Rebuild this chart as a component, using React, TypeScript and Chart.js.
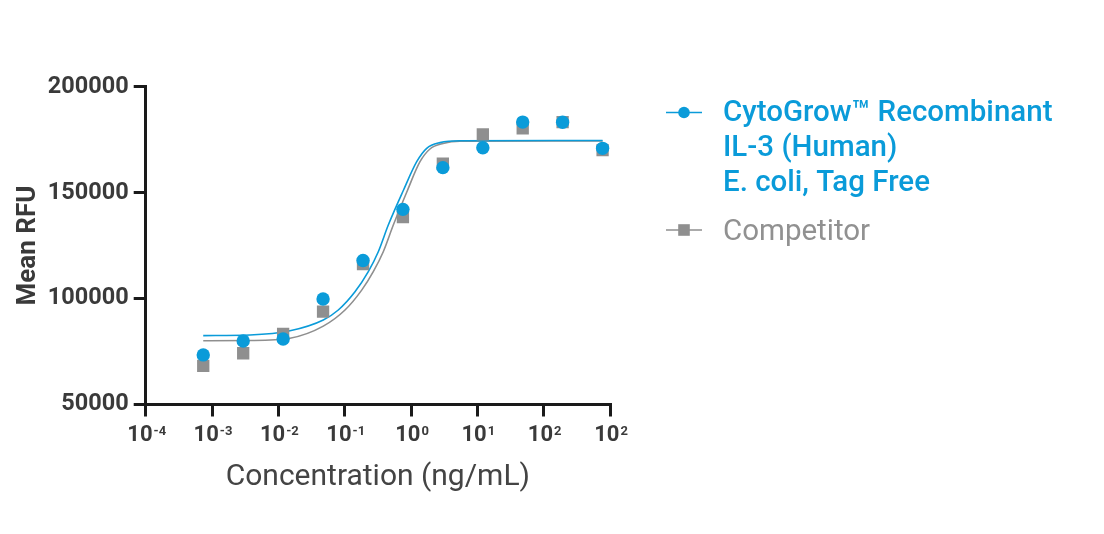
import React, { useEffect, useRef } from 'react';
import { Chart, registerables } from 'chart.js';

Chart.register(...registerables);

// ---- data ----
const concentrations = [0.000737, 0.00295, 0.0118, 0.0472, 0.189, 0.755, 3.02, 12.1, 48.3, 193, 773];
const cytoGrowRFU = [73400, 80000, 80900, 99800, 118000, 142100, 161800, 171200, 183300, 183200, 170900];
const competitorRFU = [68200, 74200, 83300, 93800, 116300, 138500, 163700, 177500, 180400, 183300, 170100];

// fitted curves
const cytoGrowFitX = [0.000737, 0.003737, 0.01498, 0.04759, 0.0801, 0.143, 0.227, 0.3211, 0.4545, 0.7656, 1.219, 1.724, 2.735, 5.476, 773];
const cytoGrowFitY = [82500, 82800, 84800, 89900, 94600, 103200, 112700, 122100, 134700, 151000, 164600, 170900, 173600, 174500, 174600];
const competitorFitX = [0.000737, 0.003737, 0.01498, 0.04759, 0.1011, 0.1805, 0.27, 0.3819, 0.5408, 0.861, 1.366, 1.932, 3.034, 5.476, 773];
const competitorFitY = [80100, 80200, 81300, 87000, 94600, 104000, 112700, 122100, 134700, 150200, 164600, 170600, 173200, 174300, 174400];

const yTickValues = [50000, 100000, 150000, 200000];
const xTickValues = [1e-4, 1e-3, 1e-2, 1e-1, 1, 10, 100, 1000];
const xTickExponents = ['-4', '-3', '-2', '-1', '0', '1', '2', '2'];

const legendCytoGrowLines = ['CytoGrow™ Recombinant', 'IL-3 (Human)', 'E. coli, Tag Free'];
const legendCompetitor = 'Competitor';
const xTitle = 'Concentration (ng/mL)';
const yTitle = 'Mean RFU';

// ---- styles ----
const BLUE = '#0a9bd9';
const GRAY = '#8f8f8f';
const GRAY_TEXT = '#919191';
const TEXT_DARK = '#3a3a3a';
const TITLE_X = '#444444';
const AXIS = '#1a1a1a';
const FONT = 'Roboto, "Noto Sans", sans-serif';

const xTickPlugin = {
  id: 'xTickLabels',
  afterDraw(chart: any) {
    const { ctx } = chart;
    const x = chart.scales.x;
    ctx.save();
    ctx.fillStyle = TEXT_DARK;
    ctx.textBaseline = 'alphabetic';
    ctx.textAlign = 'left';
    xTickValues.forEach((v, i) => {
      const px = x.getPixelForValue(v);
      ctx.font = `bold 22px ${FONT}`;
      const wb = ctx.measureText('10').width;
      ctx.font = `bold 13px ${FONT}`;
      const exp = xTickExponents[i];
      const we = ctx.measureText(exp).width;
      const start = px + 1 - (wb + we + 1) / 2;
      ctx.font = `bold 22px ${FONT}`;
      ctx.fillText('10', start, 441);
      ctx.font = `bold 13px ${FONT}`;
      ctx.fillText(exp, start + wb + 1, 435);
    });
    ctx.restore();
  },
};

const legendPlugin = {
  id: 'customLegend',
  afterDraw(chart: any) {
    const { ctx } = chart;
    ctx.save();
    ctx.textAlign = 'left';
    ctx.textBaseline = 'alphabetic';
    // CytoGrow entry
    ctx.strokeStyle = BLUE;
    ctx.lineWidth = 1.6;
    ctx.beginPath();
    ctx.moveTo(666, 112.5);
    ctx.lineTo(702, 112.5);
    ctx.stroke();
    ctx.fillStyle = BLUE;
    ctx.beginPath();
    ctx.arc(684, 112.5, 5.8, 0, Math.PI * 2);
    ctx.fill();
    ctx.font = `500 29.5px ${FONT}`;
    legendCytoGrowLines.forEach((t, i) => ctx.fillText(t, 723, 120.5 + i * 35));
    // Competitor entry
    ctx.strokeStyle = GRAY;
    ctx.beginPath();
    ctx.moveTo(666, 230);
    ctx.lineTo(702, 230);
    ctx.stroke();
    ctx.fillStyle = GRAY;
    ctx.fillRect(684 - 5.8, 230 - 5.8, 11.6, 11.6);
    ctx.fillStyle = GRAY_TEXT;
    ctx.font = `400 29.5px ${FONT}`;
    ctx.fillText(legendCompetitor, 723, 240);
    ctx.restore();
  },
};

export default function App() {
  const canvasRef = useRef<HTMLCanvasElement | null>(null);

  useEffect(() => {
    let chart: Chart | null = null;
    let cancelled = false;
    const fontsToLoad = [
      `bold 22px Roboto`,
      `bold 13px Roboto`,
      `500 29.5px Roboto`,
      `400 29.5px Roboto`,
      `bold 26px Roboto`,
      `400 30px Roboto`,
    ];
    const fontsReady = (document as any).fonts
      ? Promise.all(fontsToLoad.map((f) => (document as any).fonts.load(f))).catch(() => null)
      : Promise.resolve(null);

    fontsReady.then(() => {
      if (cancelled || !canvasRef.current) return;
      chart = new Chart(canvasRef.current, {
        type: 'scatter',
        data: {
          datasets: [
            {
              label: 'CytoGrow points',
              data: concentrations.map((c, i) => ({ x: c, y: cytoGrowRFU[i] })),
              pointStyle: 'circle',
              pointRadius: 6.7,
              pointHoverRadius: 6.7,
              backgroundColor: BLUE,
              borderWidth: 0,
              showLine: false,
            },
            {
              label: 'Competitor points',
              data: concentrations.map((c, i) => ({ x: c, y: competitorRFU[i] })),
              pointStyle: 'rect',
              pointRadius: 8.7,
              pointHoverRadius: 8.7,
              backgroundColor: GRAY,
              borderWidth: 0,
              showLine: false,
            },
            {
              label: 'CytoGrow fit',
              type: 'line',
              data: cytoGrowFitX.map((c, i) => ({ x: c, y: cytoGrowFitY[i] })),
              borderColor: BLUE,
              borderWidth: 1.6,
              pointRadius: 0,
              cubicInterpolationMode: 'monotone',
              fill: false,
            } as any,
            {
              label: 'Competitor fit',
              type: 'line',
              data: competitorFitX.map((c, i) => ({ x: c, y: competitorFitY[i] })),
              borderColor: GRAY,
              borderWidth: 1.6,
              pointRadius: 0,
              cubicInterpolationMode: 'monotone',
              fill: false,
            } as any,
          ],
        },
        options: {
          responsive: false,
          animation: false,
          layout: { padding: { top: 86.7, right: 494, bottom: 0, left: 0 } },
          plugins: {
            legend: { display: false },
            tooltip: { enabled: false },
          },
          scales: {
            x: {
              type: 'logarithmic',
              min: 1e-4,
              max: 1e3,
              afterBuildTicks: (s: any) => {
                s.ticks = xTickValues.map((v) => ({ value: v }));
              },
              afterFit: (s: any) => {
                s.height = 129.5;
              },
              ticks: { callback: () => '' },
              grid: { drawOnChartArea: false, drawTicks: true, tickLength: 12, lineWidth: 3, color: AXIS },
              border: { display: true, width: 3, color: AXIS },
              title: {
                display: true,
                text: xTitle,
                color: TITLE_X,
                font: { family: FONT, size: 30, weight: 'normal' },
                padding: { top: 0, bottom: 39 },
              },
            },
            y: {
              type: 'linear',
              min: 50000,
              max: 200000,
              afterBuildTicks: (s: any) => {
                s.ticks = yTickValues.map((v) => ({ value: v }));
              },
              afterFit: (s: any) => {
                s.width = 145.7;
              },
              ticks: {
                color: TEXT_DARK,
                padding: 5,
                font: { family: FONT, size: 23.5, weight: 'bold' },
                callback: (v: any) => String(v),
              },
              grid: { drawOnChartArea: false, drawTicks: true, tickLength: 12, lineWidth: 3, color: AXIS },
              border: { display: true, width: 3, color: AXIS },
              title: {
                display: true,
                text: yTitle,
                color: TEXT_DARK,
                font: { family: FONT, size: 26, weight: 'bold' },
                padding: { top: 13, bottom: 0 },
              },
            },
          },
        } as any,
        plugins: [xTickPlugin, legendPlugin],
      });
    });

    return () => {
      cancelled = true;
      if (chart) chart.destroy();
    };
  }, []);

  return (
    <div style={{ position: 'absolute', left: 0, top: 0, width: 1104, height: 534, background: '#ffffff' }}>
      <canvas ref={canvasRef} width={1104} height={534} style={{ width: 1104, height: 534 }} />
    </div>
  );
}
